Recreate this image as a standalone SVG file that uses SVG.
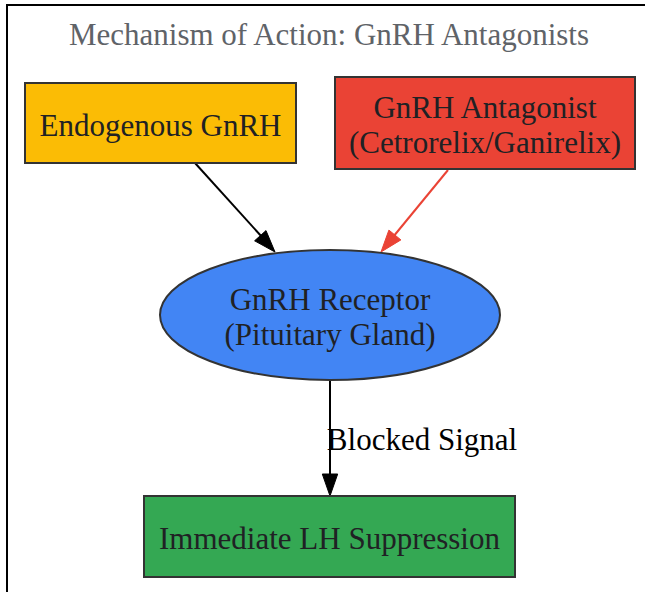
<svg xmlns="http://www.w3.org/2000/svg" width="645" height="592" viewBox="0 0 645 592">
<style>
text{font-family:"Liberation Serif","Times New Roman",serif;font-size:31px;text-anchor:middle}
.lbl{fill:#202124}
.node{stroke:#333333;stroke-width:2}
.edge{fill:none;stroke-width:2}
</style>
<rect width="645" height="592" fill="#ffffff"/>
<g id="cluster">
<rect x="7" y="5" width="660" height="620" fill="none" stroke="#000000" stroke-width="2"/>
<text x="329" y="45" fill="#5f6368">Mechanism of Action: GnRH Antagonists</text>
</g>
<g id="connectors">
<path class="edge" stroke="#000000" d="M195,163 L262,237"/>
<polygon points="275,252 254.6,240.8 266,230.6" fill="#000000" stroke="#000000"/>
<path class="edge" stroke="#ea4335" d="M448,170 L393,237"/>
<polygon points="381,252 400.9,239.9 388.9,230.1" fill="#ea4335" stroke="#ea4335"/>
<path class="edge" stroke="#000000" d="M330,380 L330,476"/>
<polygon points="330,496 322.3,474 337.7,474" fill="#000000" stroke="#000000"/>
<text x="422" y="450" fill="#000000">Blocked Signal</text>
</g>
<g id="endogenous">
<rect class="node" x="25" y="83" width="271" height="80" fill="#fbbc05"/>
<text class="lbl" x="160.5" y="136">Endogenous GnRH</text>
</g>
<g id="antagonist">
<rect class="node" x="335" y="77" width="300" height="92" fill="#ea4335"/>
<text class="lbl" x="485" y="118">GnRH Antagonist</text>
<text class="lbl" x="485" y="153">(Cetrorelix/Ganirelix)</text>
</g>
<g id="receptor">
<ellipse class="node" cx="330" cy="315" rx="170" ry="65" fill="#4285f4"/>
<text class="lbl" x="330" y="310">GnRH Receptor</text>
<text class="lbl" x="330" y="345">(Pituitary Gland)</text>
</g>
<g id="suppression">
<rect class="node" x="144" y="496" width="371" height="81" fill="#34a853"/>
<text class="lbl" x="329.5" y="549">Immediate LH Suppression</text>
</g>
</svg>
